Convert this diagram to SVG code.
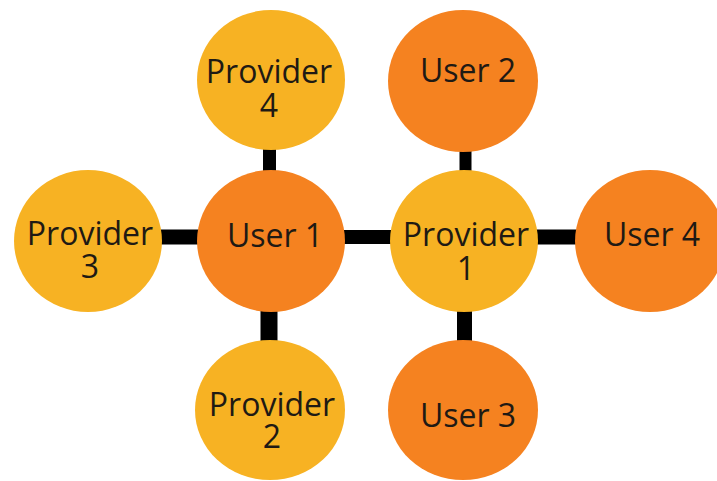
<svg xmlns="http://www.w3.org/2000/svg" width="717" height="481" viewBox="0 0 717 481">
<style>
.p{fill:#F7B223}
.u{fill:#F58220}
.t{font-family:"Open Sans","Noto Sans",sans-serif;font-size:32px;fill:#1f1a14;text-anchor:middle}
.c{stroke:#000;fill:none}
</style>
<rect width="717" height="481" fill="#fff"/>
<g id="connectors">
<line class="c" x1="269.5" y1="145" x2="269.5" y2="175" stroke-width="13"/>
<line class="c" x1="155" y1="237" x2="205" y2="237" stroke-width="15"/>
<line class="c" x1="340" y1="237" x2="395" y2="237" stroke-width="14"/>
<line class="c" x1="534" y1="237" x2="580" y2="237" stroke-width="15"/>
<line class="c" x1="269" y1="305" x2="269" y2="345" stroke-width="17"/>
<line class="c" x1="465.5" y1="145" x2="465.5" y2="175" stroke-width="12"/>
<line class="c" x1="464.5" y1="305" x2="464.5" y2="345" stroke-width="15"/>
</g>
<g id="provider4"><ellipse class="p" cx="271" cy="80" rx="74" ry="70"/><text class="t" x="269" y="83">Provider</text><text class="t" x="269" y="117">4</text></g>
<g id="user1"><ellipse class="u" cx="271" cy="241" rx="74" ry="71"/><text class="t" x="275" y="247">User 1</text></g>
<g id="provider3"><ellipse class="p" cx="88" cy="241" rx="74" ry="71"/><text class="t" x="90" y="245">Provider</text><text class="t" x="90" y="278">3</text></g>
<g id="provider2"><ellipse class="p" cx="270" cy="410" rx="75" ry="70"/><text class="t" x="272" y="416">Provider</text><text class="t" x="272" y="448">2</text></g>
<g id="user2"><ellipse class="u" cx="463" cy="81" rx="75" ry="71"/><text class="t" x="468" y="82">User 2</text></g>
<g id="provider1"><ellipse class="p" cx="464" cy="241" rx="74" ry="71"/><text class="t" x="466" y="246">Provider</text><text class="t" x="466" y="280">1</text></g>
<g id="user4"><ellipse class="u" cx="650" cy="241" rx="75" ry="71"/><text class="t" x="652" y="246">User 4</text></g>
<g id="user3"><ellipse class="u" cx="463" cy="410" rx="75" ry="70"/><text class="t" x="468" y="427">User 3</text></g>
</svg>
